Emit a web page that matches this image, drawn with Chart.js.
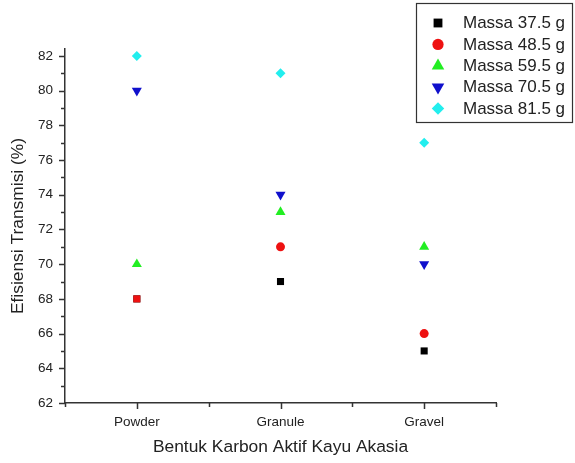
<!DOCTYPE html>
<html>
<head>
<meta charset="utf-8">
<script src="https://cdn.jsdelivr.net/npm/chart.js@4.4.1/dist/chart.umd.min.js"></script>
<style>
  html, body { margin: 0; padding: 0; background: #ffffff; }
  #wrap { width: 575px; height: 463px; position: relative; }
</style>
</head>
<body>
<div id="wrap"><canvas id="c" width="575" height="463"></canvas></div>
<script>
// Shapes of activated acacia-wood carbon (x positions 1..3)
const categories = ['Powder', 'Granule', 'Gravel'];
const categoryPositions = [1, 2, 3];

// Transmission efficiency (%) per carbon mass
const seriesNames = ['Massa 37.5 g', 'Massa 48.5 g', 'Massa 59.5 g', 'Massa 70.5 g', 'Massa 81.5 g'];
const massa375 = [68, 69, 65];
const massa485 = [68, 71, 66];
const massa595 = [70, 73, 71];
const massa705 = [80, 74, 70];
const massa815 = [82, 81, 77];

// Y-axis tick values (labelled every 2 %, minor ticks in between)
const yTickMin = 62;
const yTickMax = 82;

const seriesValues = [massa375, massa485, massa595, massa705, massa815];

// Marker styling per series
const markerStyles = [
  { color: '#000000', style: 'rect',     radius: 5,   rotation: 0 },
  { color: '#ee1111', style: ['rect', 'circle', 'circle'], radius: [5, 4.5, 4.5], rotation: 0 },
  { color: '#22ee22', style: 'triangle', radius: 5.8, rotation: 0 },
  { color: '#1010cc', style: 'triangle', radius: 5.8, rotation: 180 },
  { color: '#22eeee', style: 'rectRot',  radius: 5,   rotation: 0 }
];

const FONT = "'Liberation Sans', Arial, Helvetica, sans-serif";
const AXIS_COLOR = '#333333';
const TEXT_COLOR = '#222222';

const datasets = seriesNames.map((name, i) => ({
  label: name,
  data: categoryPositions.map((x, j) => ({ x: x, y: seriesValues[i][j] })),
  pointStyle: markerStyles[i].style,
  pointRadius: markerStyles[i].radius,
  pointHoverRadius: markerStyles[i].radius,
  pointRotation: markerStyles[i].rotation,
  backgroundColor: markerStyles[i].color,
  borderColor: markerStyles[i].color,
  pointBorderWidth: 0,
  showLine: false,
  order: seriesNames.length - 1 - i
}));

// Major / minor tick marks on both axes
const tickMarks = {
  id: 'tickMarks',
  afterDraw(chart) {
    const ctx = chart.ctx;
    const xs = chart.scales.x, ys = chart.scales.y;
    const area = chart.chartArea;
    ctx.save();
    ctx.strokeStyle = AXIS_COLOR;
    ctx.lineWidth = 1.5;
    ctx.beginPath();
    for (let v = yTickMin; v <= yTickMax; v += 1) {
      const py = Math.round(ys.getPixelForValue(v)) + 0.5;
      const len = (v % 2 === 0) ? 6 : 4;
      ctx.moveTo(area.left, py);
      ctx.lineTo(area.left - len, py);
    }
    for (let v = 0.5; v <= 3.5; v += 0.5) {
      const px = Math.round(xs.getPixelForValue(v)) + 0.5;
      const len = Number.isInteger(v) ? 6 : 4;
      ctx.moveTo(px, area.bottom);
      ctx.lineTo(px, area.bottom + len);
    }
    ctx.stroke();
    ctx.restore();
  }
};

// Boxed legend in the upper right corner
function drawMarker(ctx, opts, x, y) {
  if (Chart.helpers && Chart.helpers.drawPoint) {
    Chart.helpers.drawPoint(ctx, opts, x, y);
    return;
  }
  const r = opts.radius;
  ctx.beginPath();
  if (opts.pointStyle === 'circle') {
    ctx.arc(x, y, r, 0, Math.PI * 2);
  } else if (opts.pointStyle === 'rect') {
    const s = r * Math.SQRT1_2;
    ctx.rect(x - s, y - s, 2 * s, 2 * s);
  } else if (opts.pointStyle === 'rectRot') {
    ctx.moveTo(x, y - r); ctx.lineTo(x + r, y); ctx.lineTo(x, y + r); ctx.lineTo(x - r, y);
  } else {
    const rad = (opts.rotation || 0) * Math.PI / 180;
    for (let k = 0; k < 3; k++) {
      const a = rad + k * 2 * Math.PI / 3;
      const px = x + Math.sin(a) * r, py = y - Math.cos(a) * r;
      if (k === 0) ctx.moveTo(px, py); else ctx.lineTo(px, py);
    }
  }
  ctx.closePath();
  ctx.fill();
}

const boxLegend = {
  id: 'boxLegend',
  afterDraw(chart) {
    const ctx = chart.ctx;
    const left = 416.5, top = 3.5, right = 572.5, bottom = 122.5;
    ctx.save();
    ctx.strokeStyle = AXIS_COLOR;
    ctx.lineWidth = 1.2;
    ctx.strokeRect(left, top, right - left, bottom - top);
    ctx.font = '17px ' + FONT;
    ctx.textBaseline = 'middle';
    ctx.textAlign = 'left';
    seriesNames.forEach((name, i) => {
      const y = 23 + 21.4 * i;
      const m = markerStyles[i];
      ctx.fillStyle = m.color;
      const style = Array.isArray(m.style) ? m.style[1] : m.style;
      const radius = (Array.isArray(m.radius) ? m.radius[1] : m.radius) * 1.25;
      drawMarker(ctx, { pointStyle: style, radius: radius, rotation: m.rotation, borderWidth: 0 }, 438, y);
      ctx.fillStyle = TEXT_COLOR;
      ctx.fillText(name, 463, y + 0.5);
    });
    ctx.restore();
  }
};

new Chart(document.getElementById('c'), {
  type: 'scatter',
  data: { datasets: datasets },
  options: {
    responsive: false,
    animation: false,
    devicePixelRatio: 1,
    layout: { padding: { top: 49, right: 79, left: 0, bottom: 0 } },
    plugins: {
      legend: { display: false },
      tooltip: { enabled: false }
    },
    scales: {
      x: {
        type: 'linear',
        min: 0.5,
        max: 3.5,
        grid: { display: true, drawOnChartArea: false, drawTicks: false, color: 'rgba(0,0,0,0)' },
        border: { display: true, color: AXIS_COLOR, width: 1.5 },
        ticks: {
          stepSize: 0.5,
          autoSkip: false,
          maxRotation: 0,
          padding: 11,
          color: TEXT_COLOR,
          font: { family: FONT, size: 13.5 },
          callback: (v) => {
            const idx = categoryPositions.indexOf(v);
            return idx >= 0 ? categories[idx] : '';
          }
        },
        title: {
          display: true,
          text: 'Bentuk Karbon Aktif Kayu Akasia',
          color: TEXT_COLOR,
          font: { family: FONT, size: 17.4 },
          padding: { top: 0, bottom: 5 }
        },
        afterFit: (s) => { s.height = 60; }
      },
      y: {
        type: 'linear',
        min: yTickMin,
        max: 82.4,
        grid: { display: true, drawOnChartArea: false, drawTicks: false, color: 'rgba(0,0,0,0)' },
        border: { display: true, color: AXIS_COLOR, width: 1.5 },
        ticks: {
          autoSkip: false,
          padding: 12,
          color: TEXT_COLOR,
          font: { family: FONT, size: 13.5 },
          callback: (v) => (v % 2 === 0) ? String(v) : ''
        },
        afterBuildTicks: (s) => {
          const t = [];
          for (let v = yTickMin; v <= yTickMax; v += 1) t.push({ value: v });
          s.ticks = t;
        },
        title: {
          display: true,
          text: 'Efisiensi Transmisi (%)',
          color: TEXT_COLOR,
          font: { family: FONT, size: 17.4 },
          padding: { top: 8, bottom: 0 }
        },
        afterFit: (s) => { s.width = 65; }
      }
    }
  },
  plugins: [tickMarks, boxLegend]
});
</script>
</body>
</html>
